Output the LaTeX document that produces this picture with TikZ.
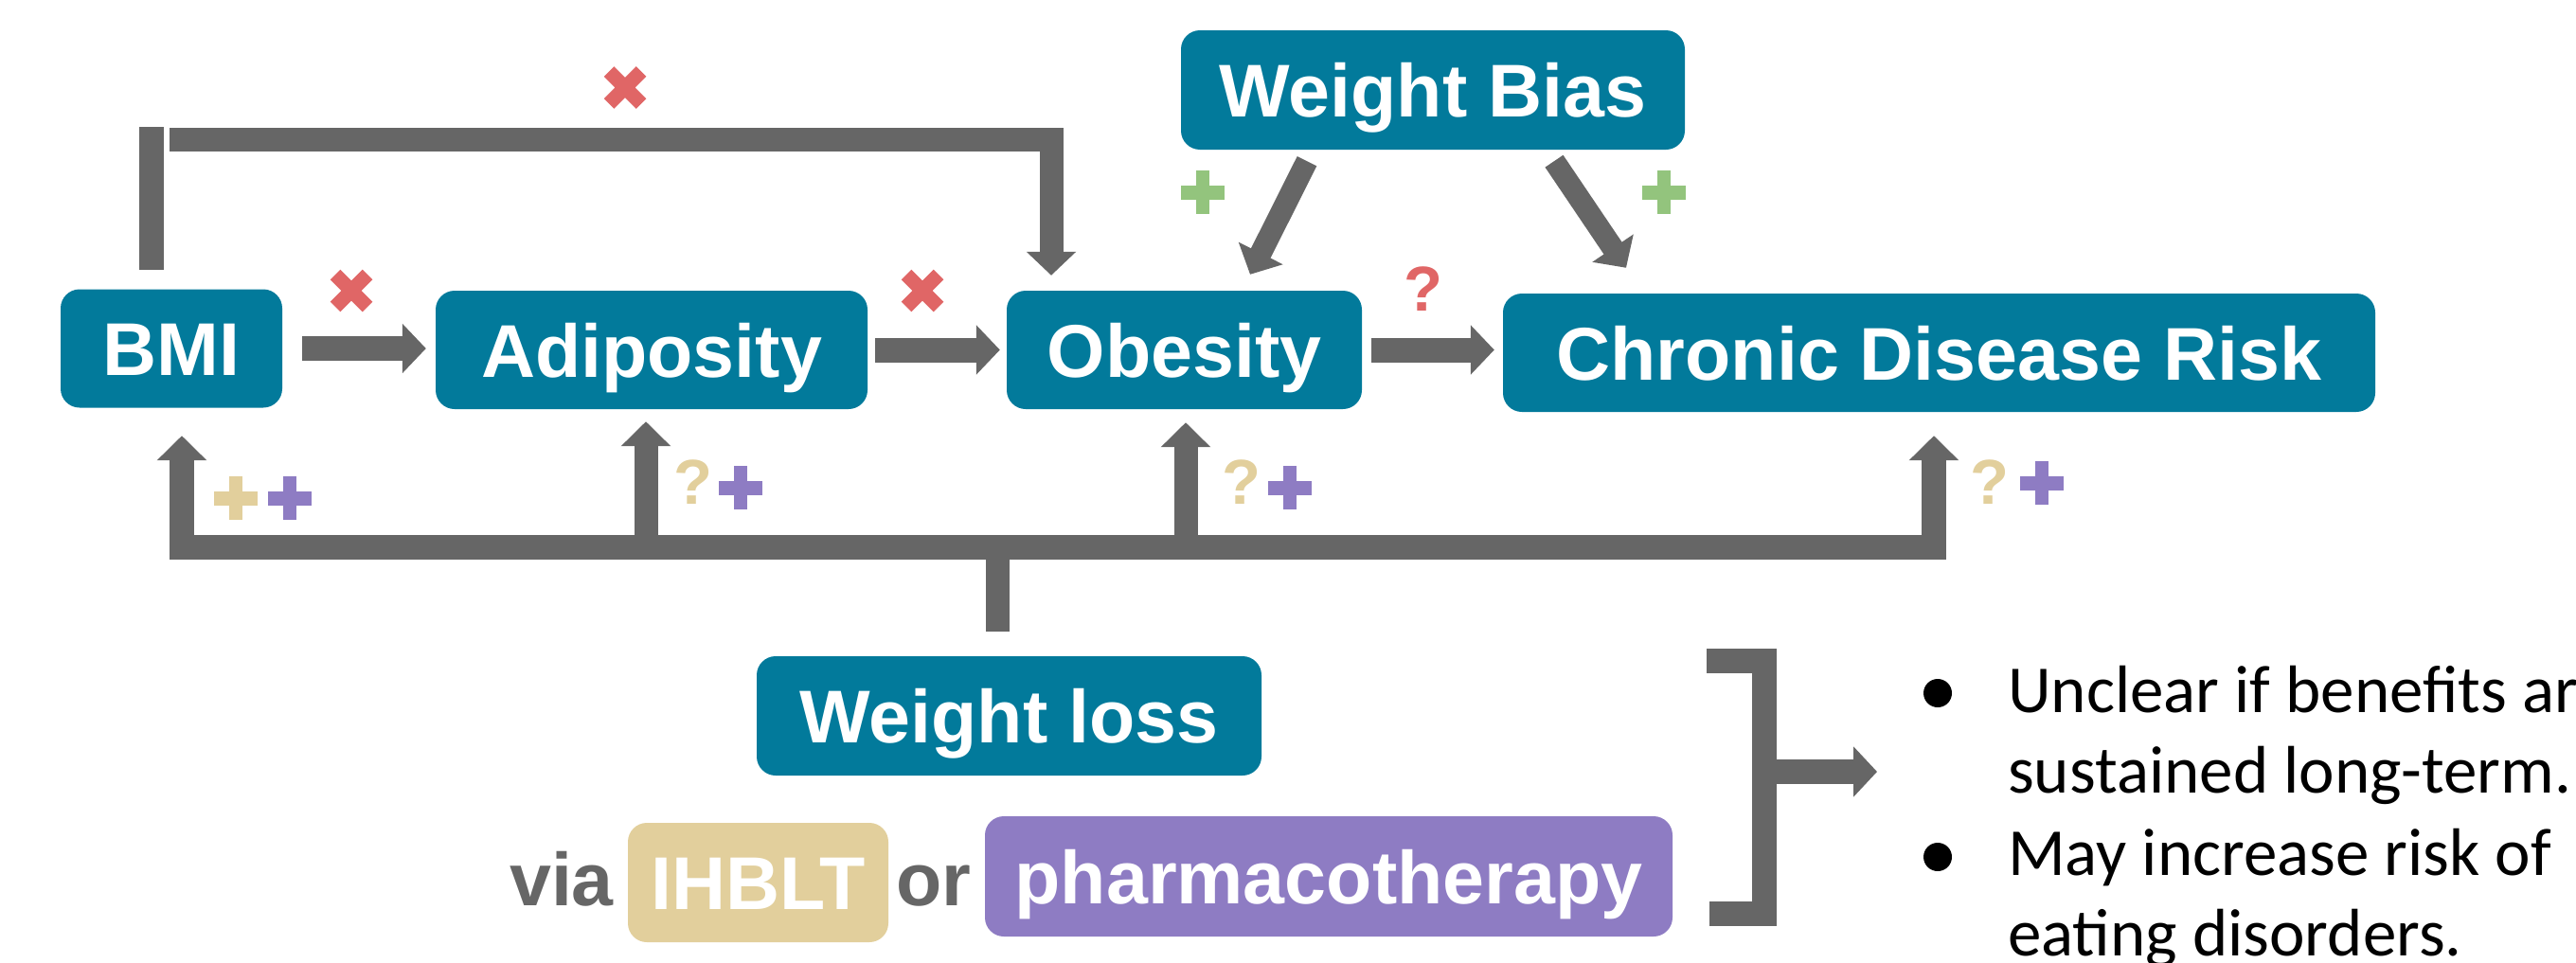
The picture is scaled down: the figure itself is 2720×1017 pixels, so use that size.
\documentclass[tikz,border=0pt]{standalone}
\usepackage{fontspec}
\setmainfont{Liberation Sans}
\newfontfamily\calib{Carlito}
\usetikzlibrary{arrows.meta,calc}
\definecolor{tealbox}{HTML}{027A9B}
\definecolor{gry}{HTML}{666666}
\definecolor{redx}{HTML}{E06666}
\definecolor{grn}{HTML}{93C47D}
\definecolor{ylw}{HTML}{E2CF9C}
\definecolor{prp}{HTML}{8E7CC3}
\tikzset{
  tbox/.style={fill=tealbox, rounded corners=20pt, text=white,
    font=\fontsize{79}{90}\selectfont\bfseries, text height=57pt, text depth=0pt,
    inner sep=0pt, minimum height=125pt},
  conn/.style={draw=gry, line width=26pt},
  harrow/.style={-{Triangle[length=25pt,width=51pt]}},
  qmark/.style={font=\fontsize{67}{70}\selectfont\bfseries, inner sep=0pt},
  bodytext/.style={anchor=base west, font=\calib\fontsize{71}{85}\selectfont, inner sep=0pt},
  plussign/.pic={\fill (-23,-7.5) rectangle (23,7.5); \fill (-7,-23) rectangle (7,23);},
  crosssign/.pic={\draw[line width=15pt] (-17,-17) -- (17,17) (-17,17) -- (17,-17);}
}
\begin{document}
\begin{tikzpicture}[x=1pt,y=-1pt]
\useasboundingbox (0,0) rectangle (2720,1017);

% boxes
\node[tbox, minimum width=234pt] (bmi) at (181,368) {BMI};
\node[tbox, minimum width=456pt] (adip) at (688,369.5) {Adiposity};
\node[tbox, minimum width=375pt] (obes) at (1250.5,369.5) {Obesity};
\node[tbox, minimum width=921pt] (cdr) at (2047.5,372.5) {Chronic Disease Risk};
\node[tbox, minimum width=532pt, minimum height=126pt] (wb) at (1513,95) {Weight Bias};
\node[tbox, minimum width=533pt, minimum height=126pt] (wl) at (1065.5,756) {Weight loss};
\node[tbox, fill=ylw, minimum width=275pt, minimum height=126pt] (ihblt) at (800.5,932) {IHBLT};
\node[tbox, fill=prp, minimum width=726pt, minimum height=127pt] (pharm) at (1403,925.5) {pharmacotherapy};
\node[anchor=base, text=gry, font=\fontsize{79}{90}\selectfont\bfseries, inner sep=0pt] (via) at (593,956) {via};
\node[anchor=base, text=gry, font=\fontsize{79}{90}\selectfont\bfseries, inner sep=0pt] (or) at (986,956) {or};

% horizontal arrows
\draw[conn,harrow,shorten <=21pt,shorten >=10pt] (bmi.east) -- (bmi.east -| adip.west);
\draw[conn,harrow,shorten <=8pt,shorten >=7pt] (adip.east) -- (adip.east -| obes.west);
\draw[conn,harrow,shorten <=10pt,shorten >=9pt] (obes.east) -- (obes.east -| cdr.west);

% top connector
\coordinate (tl) at (160,134);
\coordinate (te) at (179,147);
\draw[conn,line cap=butt] ($(bmi.north -| tl)+(0,-20)$) -- (tl);
\draw[conn,line width=25pt,harrow] (te) -| ($(obes.north)+(-140.5,-16)$);

% weight bias arrows
\draw[conn,line width=23pt,harrow] ($(wb.south)+(-133,12)$) -- ($(obes.north)+(69.5,-17)$);
\draw[conn,line width=23pt,harrow] ($(wb.south)+(128,12)$) -- ($(cdr.north)+(-330.5,-27)$);

% bottom connector
\coordinate (br) at (2042,578);
\draw[conn,{Triangle[length=26pt,width=51pt]}-{Triangle[length=26pt,width=51pt]}]
  ($(bmi.south)+(11,29.5)$) |- (br) -- ($(cdr.south)+(-5.5,25)$);
\draw[conn,line width=25pt,-{Triangle[length=26pt,width=51pt]}] ($(adip.south)+(-6,146)$) -- ($(adip.south)+(-6,13)$);
\draw[conn,line width=25pt,-{Triangle[length=26pt,width=51pt]}] ($(obes.south)+(1.5,146)$) -- ($(obes.south)+(1.5,14)$);
\draw[conn,line width=25pt] ($(wl.north)+(-12.5,-26)$) -- ($(wl.north)+(-12.5,-115)$);

% bracket
\coordinate (bt) at (1802,697.5);
\coordinate (bc) at (1863,965);
\coordinate (bb) at (1805,965);
\coordinate (bm) at (1863,815);
\coordinate (barr) at (1982,815);
\draw[conn] (bt) -| (bc) -- (bb);
\draw[conn,-{Triangle[length=25pt,width=52pt]}] (bm) -- (barr);

% bullets and text
\node[circle, fill=black, minimum size=30pt, inner sep=0pt] (b1) at (2046,732) {};
\node[circle, fill=black, minimum size=30pt, inner sep=0pt] (b2) at (2046,905) {};
\node[bodytext] (t1) at (2120,752) {Unclear if benefits are};
\node[bodytext] (t2) at (2120,837) {sustained long-term.};
\node[bodytext] (t3) at (2120,924) {May increase risk of};
\node[bodytext] (t4) at (2120,1009) {eating disorders.};

% labels
\pic[color=redx] at (660,92.5) {crosssign};
\pic[color=redx] at (371,307) {crosssign};
\pic[color=redx] at (974,307) {crosssign};
\node[qmark, text=redx] (q0) at (1503,305) {?};
\pic[color=grn] at (1270,203) {plussign};
\pic[color=grn] at (1757,203) {plussign};
\pic[color=ylw] at (249,526) {plussign};
\pic[color=prp] at (306,526) {plussign};
\node[qmark, text=ylw] (q1) at (732,509) {?};
\pic[color=prp] at (782,515) {plussign};
\node[qmark, text=ylw] (q2) at (1311,509) {?};
\pic[color=prp] at (1362,515) {plussign};
\node[qmark, text=ylw] (q3) at (2101,509) {?};
\pic[color=prp] at (2156,510) {plussign};
\end{tikzpicture}
\end{document}
